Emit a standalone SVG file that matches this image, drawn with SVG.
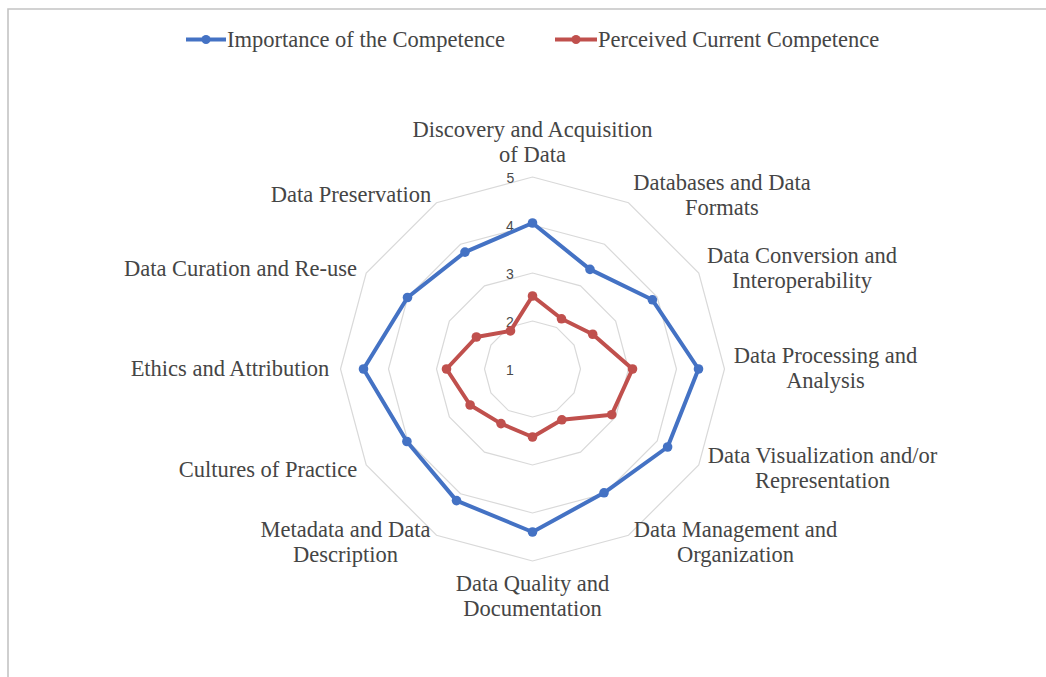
<svg xmlns="http://www.w3.org/2000/svg" width="1046" height="677" viewBox="0 0 1046 677">
<style>
.lbl{font-family:"Liberation Serif","Times New Roman",serif;font-size:22.5px;fill:#454545;text-anchor:middle}
.leg{font-family:"Liberation Serif","Times New Roman",serif;font-size:22.5px;fill:#454545}
.tick{font-family:"Liberation Sans",Arial,sans-serif;font-size:14px;fill:#4a4a4a;text-anchor:middle}
.ring{fill:none;stroke:#d9d9d9;stroke-width:1.2}
.blue{fill:none;stroke:#4472C4;stroke-width:4;stroke-linejoin:round}
.red{fill:none;stroke:#C0504D;stroke-width:4;stroke-linejoin:round}
.bm{fill:#4472C4}
.rm{fill:#C0504D}
</style>
<rect width="1046" height="677" fill="#ffffff"/>
<path d="M8,677 V9 H1046" fill="none" stroke="#c4c4c4" stroke-width="1.6"/>

<g id="legend">
  <line x1="186" y1="39.5" x2="226" y2="39.5" stroke="#4472C4" stroke-width="4"/>
  <circle cx="206" cy="39.5" r="4.5" class="bm"/>
  <text class="leg" x="227" y="47">Importance of the Competence</text>
  <line x1="555" y1="39.5" x2="597" y2="39.5" stroke="#C0504D" stroke-width="4"/>
  <circle cx="576" cy="39.5" r="4.5" class="rm"/>
  <text class="leg" x="598" y="47">Perceived Current Competence</text>
</g>

<g id="grid">
  <polygon class="ring" points="532.5,321 556.5,327.43 574.07,345 580.5,369 574.07,393 556.5,410.57 532.5,417 508.5,410.57 490.93,393 484.5,369 490.93,345 508.5,327.43"/>
  <polygon class="ring" points="532.5,273 580.5,285.86 615.64,321 628.5,369 615.64,417 580.5,452.14 532.5,465 484.5,452.14 449.36,417 436.5,369 449.36,321 484.5,285.86"/>
  <polygon class="ring" points="532.5,225 604.5,244.29 657.21,297 676.5,369 657.21,441 604.5,493.71 532.5,513 460.5,493.71 407.79,441 388.5,369 407.79,297 460.5,244.29"/>
  <polygon class="ring" points="532.5,177 628.5,202.72 698.78,273 724.5,369 698.78,465 628.5,535.28 532.5,561 436.5,535.28 366.22,465 340.5,369 366.22,273 436.5,202.72"/>
</g>

<g id="ticks">
  <text class="tick" x="510.5" y="183">5</text>
  <text class="tick" x="510" y="231">4</text>
  <text class="tick" x="510" y="279">3</text>
  <text class="tick" x="510" y="327">2</text>
  <text class="tick" x="510" y="375">1</text>
</g>

<g id="connectors">
  <polygon id="series-importance" class="blue" points="532.5,223 590,269.4 652.4,299.8 698.5,369 667.6,447 604,492.8 532.5,532 456.5,500.6 406.9,441.5 363.5,369 407.5,297.5 465,252.1"/>
  <polygon id="series-perceived" class="red" points="532.5,296 561.5,318.8 592.7,334.25 632.5,369 611.7,414.7 561.85,419.8 532.5,437 501,423.6 470.1,405 446.5,369 476.4,337 510.5,330.9"/>
</g>

<g id="markers-importance">
  <circle class="bm" cx="532.5" cy="223" r="4.8"/>
  <circle class="bm" cx="590" cy="269.4" r="4.8"/>
  <circle class="bm" cx="652.4" cy="299.8" r="4.8"/>
  <circle class="bm" cx="698.5" cy="369" r="4.8"/>
  <circle class="bm" cx="667.6" cy="447" r="4.8"/>
  <circle class="bm" cx="604" cy="492.8" r="4.8"/>
  <circle class="bm" cx="532.5" cy="532" r="4.8"/>
  <circle class="bm" cx="456.5" cy="500.6" r="4.8"/>
  <circle class="bm" cx="406.9" cy="441.5" r="4.8"/>
  <circle class="bm" cx="363.5" cy="369" r="4.8"/>
  <circle class="bm" cx="407.5" cy="297.5" r="4.8"/>
  <circle class="bm" cx="465" cy="252.1" r="4.8"/>
</g>
<g id="markers-perceived">
  <circle class="rm" cx="532.5" cy="296" r="4.8"/>
  <circle class="rm" cx="561.5" cy="318.8" r="4.8"/>
  <circle class="rm" cx="592.7" cy="334.25" r="4.8"/>
  <circle class="rm" cx="632.5" cy="369" r="4.8"/>
  <circle class="rm" cx="611.7" cy="414.7" r="4.8"/>
  <circle class="rm" cx="561.85" cy="419.8" r="4.8"/>
  <circle class="rm" cx="532.5" cy="437" r="4.8"/>
  <circle class="rm" cx="501" cy="423.6" r="4.8"/>
  <circle class="rm" cx="470.1" cy="405" r="4.8"/>
  <circle class="rm" cx="446.5" cy="369" r="4.8"/>
  <circle class="rm" cx="476.4" cy="337" r="4.8"/>
  <circle class="rm" cx="510.5" cy="330.9" r="4.8"/>
</g>

<g id="axis-discovery"><text class="lbl" x="532.5" y="137">Discovery and Acquisition</text><text class="lbl" x="532.5" y="162">of Data</text></g>
<g id="axis-databases"><text class="lbl" x="722" y="190">Databases and Data</text><text class="lbl" x="722" y="215">Formats</text></g>
<g id="axis-conversion"><text class="lbl" x="802" y="263">Data Conversion and</text><text class="lbl" x="802" y="288">Interoperability</text></g>
<g id="axis-processing"><text class="lbl" x="825.5" y="363">Data Processing and</text><text class="lbl" x="825.5" y="388">Analysis</text></g>
<g id="axis-visualization"><text class="lbl" x="822.5" y="463">Data Visualization and/or</text><text class="lbl" x="822.5" y="488">Representation</text></g>
<g id="axis-management"><text class="lbl" x="735.5" y="537">Data Management and</text><text class="lbl" x="735.5" y="562">Organization</text></g>
<g id="axis-quality"><text class="lbl" x="532.5" y="591">Data Quality and</text><text class="lbl" x="532.5" y="616">Documentation</text></g>
<g id="axis-metadata"><text class="lbl" x="345.5" y="537">Metadata and Data</text><text class="lbl" x="345.5" y="562">Description</text></g>
<g id="axis-cultures"><text class="lbl" x="268" y="477">Cultures of Practice</text></g>
<g id="axis-ethics"><text class="lbl" x="230" y="376">Ethics and Attribution</text></g>
<g id="axis-curation"><text class="lbl" x="240.5" y="276">Data Curation and Re-use</text></g>
<g id="axis-preservation"><text class="lbl" x="351" y="202">Data Preservation</text></g>
</svg>
